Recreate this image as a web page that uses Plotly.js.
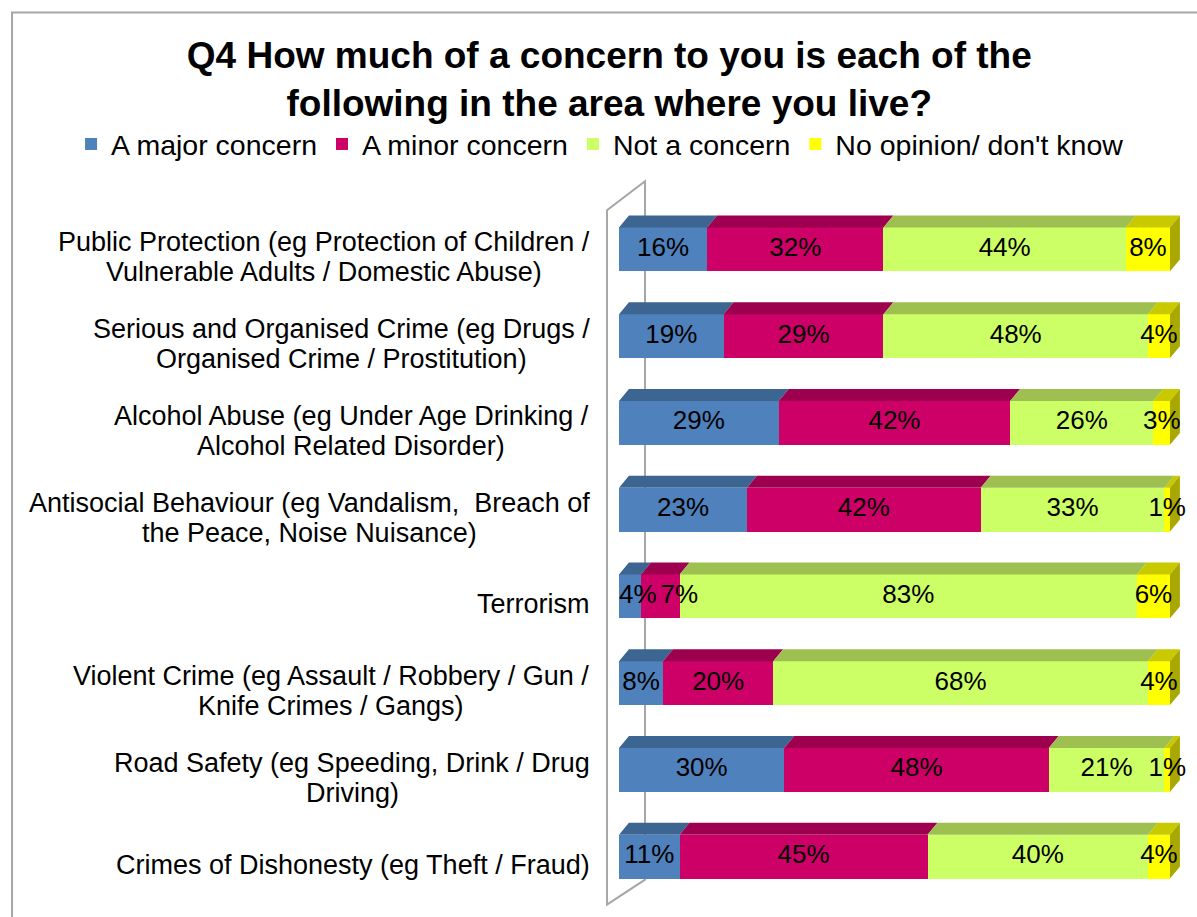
<!DOCTYPE html>
<html>
<head>
<meta charset="utf-8">
<script src="https://cdn.plot.ly/plotly-3.0.1.min.js"></script>
<style>
  html, body { margin: 0; padding: 0; background: #ffffff; }
  #chart { width: 1197px; height: 917px; }
</style>
</head>
<body>
<div id="chart"></div>
<script>
// ---- data ----
const categories = [
  "Public Protection (eg Protection of Children /<br>Vulnerable Adults / Domestic Abuse)",
  "Serious and Organised Crime (eg Drugs /<br>Organised Crime / Prostitution)",
  "Alcohol Abuse (eg Under Age Drinking /<br>Alcohol Related Disorder)",
  "Antisocial Behaviour (eg Vandalism,  Breach of<br>the Peace, Noise Nuisance)",
  "Terrorism",
  "Violent Crime (eg Assault / Robbery / Gun /<br>Knife Crimes / Gangs)",
  "Road Safety (eg Speeding, Drink / Drug<br>Driving)",
  "Crimes of Dishonesty (eg Theft / Fraud)"
];
const seriesNames = ["A major concern", "A minor concern", "Not a concern", "No opinion/ don't know"];
const majorConcern = [16, 19, 29, 23, 4, 8, 30, 11];
const minorConcern = [32, 29, 42, 42, 7, 20, 48, 45];
const notConcern   = [44, 48, 26, 33, 83, 68, 21, 40];
const noOpinion    = [8, 4, 3, 1, 6, 4, 1, 4];

// ---- styling ----
const frontColors = ["#4f81bd", "#cc0066", "#ccff66", "#ffff00"];
const topColors   = ["#3d6592", "#9c004e", "#9dc051", "#c9c900"];
const sideColor   = "#a8a800";
const FONT = "Liberation Sans, Arial, sans-serif";
const LABEL_SIZE = 26;
const CAT_SIZE = 27;

const series = [majorConcern, minorConcern, notConcern, noOpinion];
const yPos = categories.map((c, i) => i);
const BARW = 0.507;       // bar thickness (category units)
const DX = 1.8;           // 3D depth, x units
const DY = 0.138;         // 3D depth, category units
const PX_PER_X = 562 / 102;  // plot width / x range

// text measuring helper
const ctx = document.createElement("canvas").getContext("2d");
function textW(str, size) { ctx.font = size + "px 'Liberation Sans', Arial, sans-serif"; return ctx.measureText(str).width; }

const traces = [];
series.forEach((vals, s) => {
  traces.push({
    type: "bar", orientation: "h", name: seriesNames[s],
    x: vals, y: yPos,
    marker: { color: frontColors[s], line: { width: 0 } },
    hoverinfo: "name+x"
  });
});

// normalised stack boundaries
const totals = yPos.map(i => series.reduce((a, v) => a + v[i], 0));
const bounds = yPos.map(i => {
  const b = [0]; let acc = 0;
  series.forEach(v => { acc += v[i]; b.push(acc / totals[i] * 100); });
  return b;
});

// 3D top faces
series.forEach((vals, s) => {
  const xs = [], ys = [];
  yPos.forEach(i => {
    const x0 = bounds[i][s], x1 = bounds[i][s + 1];
    const yf = i - BARW / 2, yb = yf - DY;
    xs.push(x0, x1, x1 + DX, x0 + DX, x0, null);
    ys.push(yf, yf, yb, yb, yf, null);
  });
  traces.push({
    type: "scatter", mode: "lines", x: xs, y: ys, fill: "toself",
    fillcolor: topColors[s], line: { width: 0 }, showlegend: false, hoverinfo: "skip"
  });
});
// right side face
(function () {
  const xs = [], ys = [];
  yPos.forEach(i => {
    const yf = i - BARW / 2, yl = i + BARW / 2;
    xs.push(100, 100 + DX, 100 + DX, 100, 100, null);
    ys.push(yf, yf - DY, yl - DY, yl, yf, null);
  });
  traces.push({
    type: "scatter", mode: "lines", x: xs, y: ys, fill: "toself",
    fillcolor: sideColor, line: { width: 0 }, showlegend: false, hoverinfo: "skip"
  });
})();

// data labels: segment centres, nudged right so neighbouring labels don't collide
(function () {
  const lx = [], ly = [], lt = [];
  const gap = 4 / PX_PER_X;
  yPos.forEach(i => {
    let prevRight = 0;
    series.forEach((vals, s) => {
      const t = vals[i] + "%";
      const half = textW(t, LABEL_SIZE) / 2 / PX_PER_X;
      const c = (bounds[i][s] + bounds[i][s + 1]) / 2;
      const pos = Math.max(c, prevRight + (s === 0 ? 0 : gap) + half);
      prevRight = pos + half;
      lx.push(pos); ly.push(i); lt.push(t);
    });
  });
  traces.push({
    type: "scatter", mode: "text", x: lx, y: ly, text: lt,
    textposition: "middle center", cliponaxis: false,
    textfont: { family: FONT, size: LABEL_SIZE, color: "#000000" },
    xaxis: "x2", yaxis: "y2", showlegend: false, hoverinfo: "skip"
  });
})();

// category labels: one annotation per line, lines centred on each other, 30px line pitch
const annotations = [];
const RIGHT_EDGE = -29;   // px offset from plot left edge
const LINE_PITCH = 30;
const LABEL_DROP = 8;
categories.forEach((c, i) => {
  const lines = c.split("<br>");
  const maxW = Math.max(...lines.map(l => textW(l, CAT_SIZE)));
  lines.forEach((l, k) => {
    annotations.push({
      xref: "paper", yref: "y", x: 0, y: i, xanchor: "center", yanchor: "middle",
      xshift: RIGHT_EDGE - maxW / 2,
      yshift: -LABEL_DROP - (k - (lines.length - 1) / 2) * LINE_PITCH,
      text: l, showarrow: false,
      font: { family: FONT, size: CAT_SIZE, color: "#000000" }
    });
  });
});

// wall outline (3D back wall) + chart border, paper coords
const wallColor = "#a6a6a6";
const shapes = [
  { type: "path", xref: "paper", yref: "paper", layer: "below",
    path: "M -0.0214 -0.0066 L -0.0214 0.994 L 0.0463 1.0357 L 0.0463 0.0294 Z",
    line: { color: wallColor, width: 2 } },
  { type: "path", xref: "paper", yref: "paper", layer: "below",
    path: "M -1.080 -0.05 L -1.080 1.2787 L 1.05 1.2787",
    line: { color: wallColor, width: 2 } }
];

const axisBase = { range: [0, 102], showgrid: false, zeroline: false, showticklabels: false, showline: false, fixedrange: true };
const yBase = { range: [7.5, -0.5], showgrid: false, zeroline: false, showticklabels: false, showline: false, fixedrange: true };

const layout = {
  width: 1197, height: 917,
  margin: { l: 619, r: 16, t: 206, b: 17, autoexpand: false },
  paper_bgcolor: "#ffffff", plot_bgcolor: "rgba(0,0,0,0)",
  barmode: "stack", barnorm: "percent", bargap: 1 - BARW,
  font: { family: FONT, color: "#000000" },
  title: {
    text: "<b>Q4 How much of a concern to you is each of the<br>following in the area where you live?</b>",
    font: { family: FONT, size: 37, color: "#000000" },
    xref: "container", x: 0.509, xanchor: "center",
    yref: "container", y: 0.926, yanchor: "middle"
  },
  legend: {
    orientation: "h", xref: "paper", yref: "paper",
    x: -0.975, xanchor: "left", y: 1.0887, yanchor: "middle",
    font: { family: FONT, size: 28.5, color: "#000000" },
    traceorder: "normal", itemclick: false, itemdoubleclick: false
  },
  xaxis: axisBase,
  yaxis: yBase,
  xaxis2: Object.assign({}, axisBase, { overlaying: "x", anchor: "y2" }),
  yaxis2: Object.assign({}, yBase, { overlaying: "y", anchor: "x2" }),
  annotations: annotations,
  shapes: shapes,
  showlegend: true
};

Plotly.newPlot("chart", traces, layout, { displayModeBar: false, responsive: false });
</script>
</body>
</html>
